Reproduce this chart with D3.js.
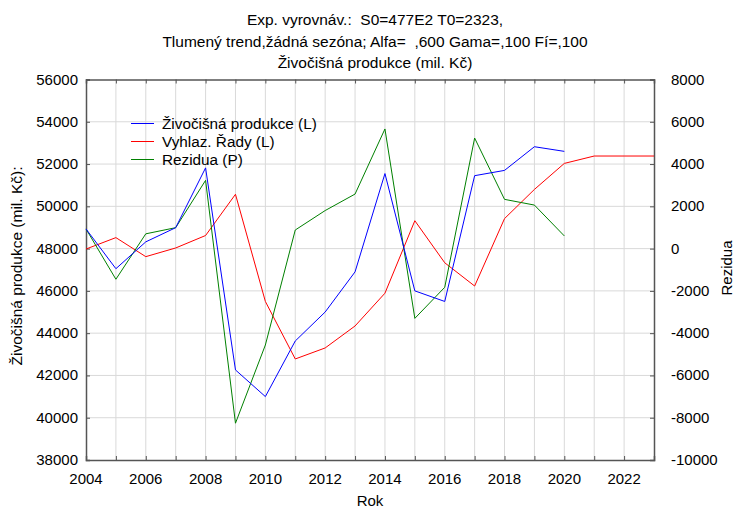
<!DOCTYPE html>
<html><head><meta charset="utf-8">
<script src="https://cdn.jsdelivr.net/npm/d3@7/dist/d3.min.js"></script>
<style>
body{margin:0;background:#fff;}
text{font-family:"Liberation Sans",Arial,sans-serif;fill:#000;}
</style></head>
<body><svg id="c" width="736" height="510"></svg>
<script>
const years = [2004,2005,2006,2007,2008,2009,2010,2011,2012,2013,2014,2015,2016,2017,2018,2019,2020,2021,2022,2023];
const produkce = [48930,47050,48320,48990,51820,42260,41000,43630,45000,46900,51550,46000,45500,51450,51700,52820,52600];
const vyhlaz = [47980,48520,47620,48030,48620,50570,45500,42780,43300,44340,45890,49320,47330,46230,49420,50800,52030,52380,52380,52380];
const rezidua = [930,-1450,700,990,3230,-8260,-4560,880,1800,2580,5660,-3300,-1830,5230,2330,2060,600];
const leftTicks = [38000,40000,42000,44000,46000,48000,50000,52000,54000,56000];
const rightTicks = [-10000,-8000,-6000,-4000,-2000,0,2000,4000,6000,8000];
const xTicks = [2004,2006,2008,2010,2012,2014,2016,2018,2020,2022];
const titleLines = ["Exp. vyrovnáv.:  S0=477E2 T0=2323,","Tlumený trend,žádná sezóna; Alfa=  ,600 Gama=,100 Fí=,100","Živočišná produkce (mil. Kč)"];
const seriesNames = ["Živočišná produkce (L)","Vyhlaz. Řady (L)","Rezidua (P)"];
const colors = ["#0000ff","#ff0000","#008000"];

const svg = d3.select("#c");
const L=86, R=654, T=79.5, B=460;
const x = d3.scaleLinear().domain([2004,2023]).range([L,R]);
const yL = d3.scaleLinear().domain([38000,56000]).range([B,T]);
const yR = d3.scaleLinear().domain([-10000,8000]).range([B,T]);

// grid
const g = svg.append("g");
g.selectAll(".vg").data(years.slice(1,-1)).enter().append("line")
 .attr("x1",d=>x(d)).attr("x2",d=>x(d)).attr("y1",T).attr("y2",B)
 .attr("stroke","#d9d9d9").attr("stroke-width",1);
g.selectAll(".hg").data(leftTicks.slice(1,-1)).enter().append("line")
 .attr("x1",L).attr("x2",R).attr("y1",d=>yL(d)).attr("y2",d=>yL(d))
 .attr("stroke","#d9d9d9").attr("stroke-width",1);

// axes with inward ticks
const axCol="#555";
const xb = svg.append("g").attr("transform",`translate(0,${B})`)
 .call(d3.axisBottom(x).tickValues(years).tickSize(-4).tickFormat(""));
const xt = svg.append("g").attr("transform",`translate(0,${T})`)
 .call(d3.axisTop(x).tickValues(years).tickSize(-4).tickFormat(""));
const yl = svg.append("g").attr("transform",`translate(${L},0)`)
 .call(d3.axisLeft(yL).tickValues(leftTicks).tickSize(-4).tickFormat(""));
const yr = svg.append("g").attr("transform",`translate(${R},0)`)
 .call(d3.axisRight(yR).tickValues(rightTicks).tickSize(-4).tickFormat(""));
[xb,xt,yl,yr].forEach(a=>{a.selectAll("path").attr("stroke",axCol).attr("stroke-width",1.5);a.selectAll("line").attr("stroke",axCol);});

// tick labels
svg.selectAll(".xl").data(xTicks).enter().append("text")
 .attr("x",d=>x(d)).attr("y",484).attr("text-anchor","middle").attr("font-size",15).text(d=>d);
svg.selectAll(".ll").data(leftTicks).enter().append("text")
 .attr("x",78).attr("y",d=>yL(d)+5).attr("text-anchor","end").attr("font-size",15).text(d=>d);
svg.selectAll(".rl").data(rightTicks).enter().append("text")
 .attr("x",671).attr("y",d=>yR(d)+5).attr("text-anchor","start").attr("font-size",15).text(d=>d);

// lines
const line = (ys)=>d3.line().x((d,i)=>x(years[i])).y(d=>ys(d));
svg.append("path").datum(vyhlaz).attr("d",line(yL)).attr("fill","none").attr("stroke",colors[1]).attr("stroke-width",1);
svg.append("path").datum(rezidua).attr("d",line(yR)).attr("fill","none").attr("stroke",colors[2]).attr("stroke-width",1);
svg.append("path").datum(produkce).attr("d",line(yL)).attr("fill","none").attr("stroke",colors[0]).attr("stroke-width",1);

// title
svg.selectAll(".tt").data(titleLines).enter().append("text")
 .attr("x",375).attr("y",(d,i)=>25+i*21.5).attr("text-anchor","middle").attr("font-size",15.5)
 .style("white-space","pre").attr("xml:space","preserve").text(d=>d);

// axis titles
svg.append("text").attr("x",370).attr("y",506).attr("text-anchor","middle").attr("font-size",15).text("Rok");
svg.append("text").attr("transform","translate(22,266) rotate(-90)").attr("text-anchor","middle").attr("font-size",15.5).text("Živočišná produkce (mil. Kč):");
svg.append("text").attr("transform","translate(732,268) rotate(-90)").attr("text-anchor","middle").attr("font-size",15).text("Rezidua");

// legend
const lg = svg.append("g");
seriesNames.forEach((n,i)=>{
 const yy = 123.5 + i*18;
 lg.append("line").attr("x1",131).attr("x2",154).attr("y1",yy).attr("y2",yy).attr("stroke",colors[i]).attr("stroke-width",1);
 lg.append("text").attr("x",162).attr("y",yy+5.5).attr("font-size",15.3).text(n);
});
</script></body></html>
